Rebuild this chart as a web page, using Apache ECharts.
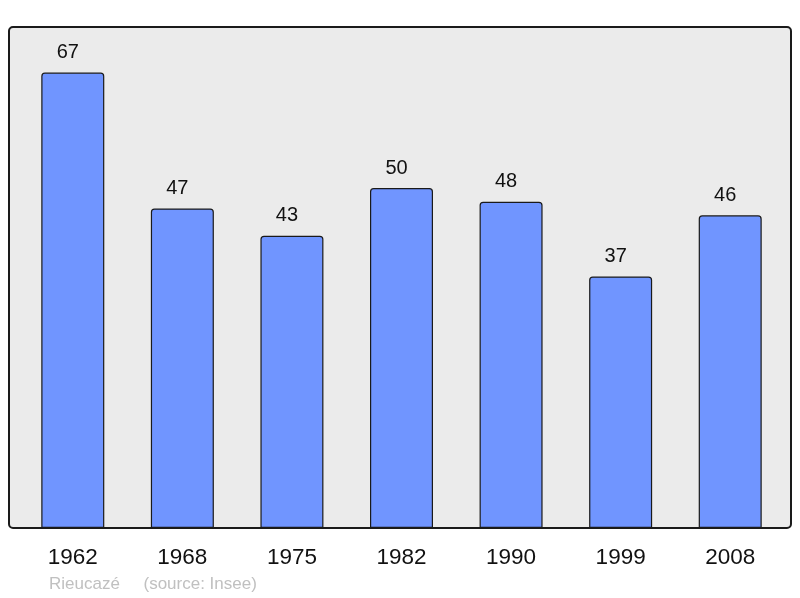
<!DOCTYPE html>
<html>
<head>
<meta charset="utf-8">
<script src="https://cdn.jsdelivr.net/npm/echarts@6/dist/echarts.min.js"></script>
<style>
  html, body {margin: 0; padding: 0; background: #fff;}
  #chart {width: 800px; height: 598px;}
</style>
</head>
<body>
<div id="chart"></div>
<script>
// census years and population
const years = ['1962', '1968', '1975', '1982', '1990', '1999', '2008'];
const population = [67, 47, 43, 50, 48, 37, 46];

const chart = echarts.init(document.getElementById('chart'));

chart.setOption({
    animation: false,
    graphic: [
        {
            type: 'rect', z: -10,
            shape: {x: 9, y: 27, width: 782, height: 501, r: 4},
            style: {fill: '#ebebeb', stroke: '#1a1a1a', lineWidth: 2}
        },
        {
            type: 'text', left: 49, top: 576,
            style: {text: 'Rieucazé     (source: Insee)', fill: '#c0c0c0', font: '17px "Liberation Sans", Arial, sans-serif'}
        }
    ],
    grid: {left: 18, right: 15, top: 27, bottom: 70},
    xAxis: {
        type: 'category', data: years,
        axisLine: {show: false}, axisTick: {show: false},
        axisLabel: {color: '#111', fontSize: 22.5, margin: 18, fontFamily: 'Liberation Sans'}
    },
    yAxis: {
        type: 'value', min: 0, max: 73.7,
        show: false, splitLine: {show: false}
    },
    series: [{
        type: 'bar', data: population, barWidth: 63,
        itemStyle: {color: '#7095ff', borderColor: '#1a1a1a', borderWidth: 1.2, borderRadius: [3, 3, 0, 0]},
        label: {show: true, position: 'top', distance: 10, offset: [-5, 0], color: '#111', fontSize: 20, fontFamily: 'Liberation Sans'}
    }]
});
</script>
</body>
</html>
